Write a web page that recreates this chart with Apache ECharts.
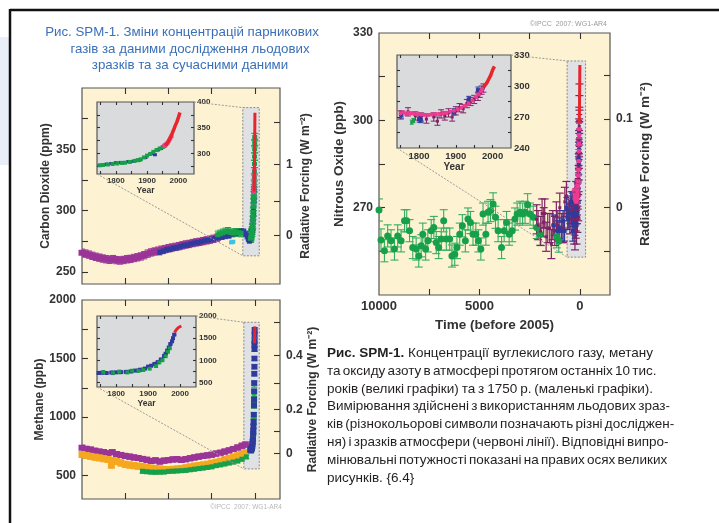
<!DOCTYPE html>
<html>
<head>
<meta charset="utf-8">
<title>SPM-1</title>
<script src="https://cdn.jsdelivr.net/npm/echarts@6/dist/echarts.min.js"></script>
<style>
  html, body { margin: 0; padding: 0; background: #fff; }
  #main { width: 719px; height: 523px; }
</style>
</head>
<body>
<div id="main"></div>
<script>
// ---- data (main panels: [years before 2005, value]; insets: [year, value]) ----
var co2Purple = [[10000,265.5],[9800,264.8],[9600,264],[9400,263],[9200,262.2],[9000,261.5],[8800,260.8],[8600,260.2],[8400,259.8],[8200,260.3],[8000,259.5],[7800,259.2],[7600,259.6],[7400,260.2],[7200,260.5],[7000,261.2],[6800,261.8],[6600,262.5],[6400,263.5],[6200,264.8],[6000,265.8],[5800,266.5],[5600,267.2],[5400,268],[5200,268.5],[5000,269.2],[4800,269.8],[4600,270.3],[4400,270.9],[4200,271.6],[4000,272.3],[3800,272.7],[3600,273.4],[3400,274],[3200,274.4],[3000,275],[2800,275.6],[2600,276.2],[2400,276.9],[2200,277.6]];
var co2Blue = [[5500,266],[5300,267],[5100,268.2],[4900,268.6],[4700,269.5],[4500,270],[4300,270.8],[4100,271.6],[3900,272],[3700,272.8],[3500,273.5],[3300,274],[3100,274.6],[2900,275.3],[2700,275.8],[2500,276.5],[2300,277.1],[2100,278],[1900,278.6],[1700,279.2],[1500,279.6],[1300,280.8],[1100,281.5],[950,282.4],[800,283],[650,282.7],[550,281],[450,279],[380,277],[320,275.5]];
var co2Green = [[2150,280.2],[2000,281],[1850,281.8],[1700,282.6],[1550,283.1],[1400,282],[1250,281.6],[1100,282.3],[950,282],[800,281.5]];
var co2Cyan = [[1350,274],[1280,274.5]];
var co2MainGreen = [[1960,318],[1966,322],[1970,327],[1975,332],[1980,338],[1984,344],[1988,350],[1992,355],[1996,360]];

var co2InsetGreen = [[1750,277],[1760,277.5],[1775,278.5],[1790,279.5],[1805,280.5],[1820,281.5],[1830,282],[1845,283.5],[1860,285.5],[1870,286.8],[1880,288.5],[1890,292.2],[1900,295.8],[1910,299],[1920,303],[1930,306.5],[1940,309.5],[1950,312.5],[1955,314]];
var co2InsetBlue = [[1748,276.5],[1770,279],[1785,280.5],[1800,281.8],[1815,282.5],[1840,284],[1855,284.5],[1875,287],[1895,292],[1915,300],[1925,297.5],[1935,307],[1945,310],[1960,317]];
var co2InsetPink = [[1955,315],[1958,316],[1962,318.5],[1966,321],[1970,325],[1974,329],[1978,333.5]];
var co2InsetRed = [[1958,315.5],[1965,320],[1970,325.7],[1975,331],[1980,338.7],[1985,346],[1990,354],[1995,360.9],[2000,369.5],[2005,379.8]];

var ch4Purple = [[10000,738],[9750,728],[9500,722],[9250,712],[9000,705],[8750,700],[8500,690],[8250,700],[8000,683],[7750,676],[7500,668],[7250,662],[7000,655],[6750,650],[6500,642],[6250,635],[6000,625],[5750,630],[5500,620],[5250,628],[5000,632],[4750,638],[4500,640],[4250,634],[4000,640],[3750,648],[3500,655],[3250,662],[3000,668],[2750,673],[2500,678],[2250,688],[2000,695],[1750,705],[1500,715],[1250,727],[1000,740],[750,755],[550,765]];
var ch4Orange = [[10000,680],[9750,672],[9500,664],[9250,658],[9000,652],[8750,645],[8500,638],[8300,590],[8250,628],[8000,620],[7750,608],[7500,596],[7250,590],[7000,585],[6750,580],[6500,576],[6250,570],[6000,563],[5750,560],[5500,556],[5250,552],[5000,551],[4750,553],[4500,556],[4250,560],[4000,566],[3750,573],[3500,580],[3250,586],[3000,590],[2750,596],[2500,605],[2250,613],[2000,622],[1750,635],[1500,646],[1250,657],[1000,668],[800,680],[600,694]];
var ch4Green = [[6500,537],[6250,533],[6000,530],[5750,529],[5500,530],[5250,531],[5000,536],[4750,538],[4500,540],[4250,542],[4000,545],[3750,550],[3500,555],[3250,560],[3000,565],[2750,570],[2500,575],[2250,585],[2000,592],[1750,600],[1500,608],[1250,616],[1000,625],[750,640],[500,660]];
var ch4MainBlue = [[1985,1650],[1987,1700],[1990,1740],[1980,1620]];

var ch4InsetBlue = [[1745,715],[1755,720],[1770,715],[1785,725],[1800,730],[1815,735],[1830,740],[1845,750],[1860,770],[1875,790],[1890,815],[1900,860],[1910,880],[1920,920],[1930,960],[1940,1020],[1950,1100],[1955,1150],[1960,1220],[1965,1290],[1970,1370],[1975,1430],[1978,1500],[1982,1580]];
var ch4InsetGreen = [[1760,730],[1790,720],[1810,740],[1835,735],[1850,760],[1870,770],[1885,790],[1905,820],[1925,880],[1935,960],[1945,1010],[1955,1100],[1962,1200],[1968,1280]];
var ch4InsetRed = [[1983,1630],[1987,1680],[1991,1715],[1995,1740],[2000,1760],[2004,1775]];

var n2oGreen = [[10000,269.2],[9900,258.9],[9730,255.2],[9570,260.3],[9400,258.6],[9230,255.8],[9070,260.3],[8900,258.6],[8730,265.5],[8620,265.5],[8480,262.1],[8320,256.3],[8150,255.8],[8020,253.4],[7900,256.9],[7820,260.9],[7680,255.8],[7570,258.6],[7400,262.1],[7270,263.2],[7150,258],[7030,256.3],[6900,259.2],[6780,265.5],[6650,259.2],[6480,259.2],[6370,253.4],[6230,254],[6120,256.3],[5980,260.9],[5850,263.8],[5700,258.6],[5570,266.1],[5450,264.9],[5320,260.9],[5180,260.9],[5050,258.6],[4930,255.8],[4820,267.8],[4680,260.9],[4570,268.4],[4450,269],[4320,271.3],[4200,266.7],[4070,262.1],[3900,256.3],[3770,262.1],[3650,264.9],[3520,260.9],[3370,262.1],[3230,266.1],[3120,267.8],[2980,268.4],[2850,267.8],[2730,268.4],[2600,271],[2480,267.8],[2320,266.7],[2150,263.2],[1980,260.9],[1150,260],[1050,258.5]];
var n2oPurple = [[2150,266],[2080,264],[1950,262],[1880,268],[1800,265],[1750,268],[1680,260],[1600,263],[1500,263],[1420,257.5],[1350,264],[1250,262],[1170,267],[1100,264],[1000,270],[900,263],[830,263],[750,272],[670,274],[580,268],[500,266],[420,269],[340,270]];
var n2oBlue = [[1300,264],[1100,262],[1000,263],[900,262],[833,265.5],[760,262],[667,270],[600,266],[520,268],[450,272],[380,267],[333,272],[280,271]];
// extra firn / ice points seen only in the main panel spike
var n2oSpikePurple = [[1700,266],[1720,262],[1740,268],[1760,260],[1780,271],[1800,264],[1820,269],[1840,262],[1860,272],[1880,266],[1900,274],[1920,270],[1940,280],[1950,284],[1960,288],[1965,292],[1970,296],[1975,300],[1980,304],[1985,308]];
var n2oSpikeBlue = [[1650,262],[1700,268],[1760,264],[1820,270],[1880,268],[1920,276],[1950,285],[1965,290],[1975,296]];

var n2oInsetPink = [[1750,273.5],[1758,274.5],[1765,273],[1772,274],[1780,273.6],[1788,272.8],[1795,272.5],[1805,272.3],[1815,272.2],[1825,272],[1835,272.5],[1845,272.7],[1855,273],[1865,273.5],[1875,274],[1885,275],[1895,276],[1905,277.5],[1915,279],[1925,281],[1935,283],[1945,286],[1955,289.5],[1962,292],[1968,295],[1972,297]];
var n2oInsetPurple = [[1750,272],[1770,275],[1790,271],[1805,270],[1820,268],[1840,270],[1850,266],[1860,273],[1870,271],[1880,274],[1890,270],[1900,276],[1910,279],[1920,278],[1930,283],[1940,285],[1950,287],[1960,290],[1965,293],[1970,296],[1975,298]];
var n2oInsetBlue = [[1752,272],[1800,268],[1805,267.5],[1895,275],[1935,287],[1960,296]];
var n2oInsetGreen = [[1780,265],[1785,266.5]];
var n2oInsetRed = [[1976,299],[1980,301],[1985,303.5],[1990,307],[1995,310.5],[2000,315.5],[2005,319]];

// zoom boxes in main panels: [t from, t to], [value from, value to]
var co2BoxT = [700, -250], co2BoxV = [263, 384];
var ch4BoxT = [640, -250], ch4BoxV = [557, 1810];
var n2oBoxT = [635, -285], n2oBoxV = [253, 320.4];

// ticks
var timeTicks = [7500, 5000, 2500, 0];
var timeLabels = [10000, 5000, 0];
var yearTicks = [1750, 1800, 1850, 1900, 1950, 2000];
var yearLabels = [1800, 1900, 2000];
var co2Ticks = [250, 275, 300, 325, 350, 375], co2Labels = [250, 300, 350];
var ch4Ticks = [500, 750, 1000, 1250, 1500, 1750], ch4Labels = [500, 1000, 1500, 2000];
var n2oTicks = [255, 270, 285, 300, 315], n2oLabels = [270, 300, 330];
// radiative forcing ticks placed at the concentration they correspond to
var co2RfConc = [279.5, 307.5, 337.7, 372], co2RfLabelConc = [279.5, 337.7], co2RfText = ['0', '1'];
var ch4RfConc = [688, 876, 1064, 1286, 1526, 1808], ch4RfLabelConc = [688, 1064, 1526], ch4RfText = ['0', '0.2', '0.4'];
var n2oRfConc = [255, 270, 285, 300.5, 315.5], n2oRfLabelConc = [270, 300.5], n2oRfText = ['0', '0.1'];
var co2InsetTicks = [275, 300, 325, 350, 375], co2InsetLabels = [300, 350, 400];
var ch4InsetTicks = [500, 750, 1000, 1250, 1500, 1750], ch4InsetLabels = [500, 1000, 1500, 2000];
var n2oInsetTicks = [255, 270, 285, 300, 315], n2oInsetLabels = [240, 270, 300, 330];

var titleLines = ['Рис. SPM-1. Зміни концентрацій парникових', 'газів за даними дослідження льодових', 'зразків та за сучасними даними'];
var captionBold = 2; // first two words of the caption are bold
var captionLines = [
  'Рис. SPM-1. Концентрації вуглекислого газу, метану',
  'та оксиду азоту в атмосфері протягом останніх 10 тис.',
  'років (великі графіки) та з 1750 р. (маленькі графіки).',
  'Вимірювання здійснені з використанням льодових зраз-',
  'ків (різнокольорові символи позначають різні досліджен-',
  'ня) і зразків атмосфери (червоні лінії). Відповідні випро-',
  'мінювальні потужності показані на правих осях великих',
  'рисунків. {6.4}'
];

// ---- helpers ----
var FONT = '"Liberation Sans", Arial, sans-serif';
var NARROW = '"Liberation Sans Narrow", "Liberation Sans", Arial, sans-serif';
var INK = '#333';

function bp(arr) {
  return arr.map(function (p) { return [2005 - p[0], p[1]]; });
}

function plain(v) { return String(v); }

function labelFrom(conc, text) {
  return function (v) {
    for (var i = 0; i < conc.length; i++) {
      if (Math.abs(v - conc[i]) < 0.01) return text[i];
    }
    return '';
  };
}

function tick(values, len) {
  return { inside: true, length: len, customValues: values, lineStyle: { color: INK, width: 1.1 } };
}

function xAxis(grid, pos, min, max, inverse, ticks, labels, lab) {
  var a = {
    type: 'value', gridIndex: grid, position: pos, inverse: inverse, min: min, max: max,
    axisLine: { show: false, onZero: false }, splitLine: { show: false },
    axisTick: tick(ticks, inverse ? 6 : 3),
    axisLabel: { show: false }
  };
  if (labels) {
    a.axisLabel = Object.assign({ show: true, customValues: labels, color: INK, fontWeight: 'bold',
      fontFamily: FONT, formatter: plain }, lab);
  }
  return a;
}

function yAxis(grid, pos, min, max, ticks, labels, lab, fmt) {
  var a = {
    type: 'value', gridIndex: grid, position: pos, min: min, max: max,
    axisLine: { show: false, onZero: false }, splitLine: { show: false },
    axisTick: tick(ticks, grid < 3 ? 6 : 3),
    axisLabel: { show: false }
  };
  if (labels) {
    a.axisLabel = Object.assign({ show: true, customValues: labels, color: INK, fontWeight: 'bold',
      fontFamily: FONT, formatter: fmt || plain }, lab);
  }
  return a;
}

function axisName(a, text, gap, size) {
  a.name = text;
  a.nameLocation = 'middle';
  a.nameGap = gap;
  a.nameTextStyle = { fontWeight: 'bold', fontSize: size, color: INK, fontFamily: FONT };
  return a;
}

function errorBar(cap, width) {
  return function (params, api) {
    var x = api.value(0), y = api.value(1), e = api.value(2);
    var hi = api.coord([x, y + e]);
    var lo = api.coord([x, y - e]);
    var st = { stroke: api.visual('color'), lineWidth: width };
    return {
      type: 'group',
      children: [
        { type: 'line', shape: { x1: hi[0], y1: hi[1], x2: lo[0], y2: lo[1] }, style: st },
        { type: 'line', shape: { x1: hi[0] - cap, y1: hi[1], x2: hi[0] + cap, y2: hi[1] }, style: st },
        { type: 'line', shape: { x1: lo[0] - cap, y1: lo[1], x2: lo[0] + cap, y2: lo[1] }, style: st }
      ]
    };
  };
}

function boxItem(params, api) {
  var a = api.coord([api.value(0), api.value(3)]);
  var b = api.coord([api.value(1), api.value(2)]);
  return {
    type: 'rect',
    shape: { x: a[0], y: a[1], width: b[0] - a[0], height: b[1] - a[1] },
    style: { fill: '#dfe1e5', stroke: '#8a8a8a', lineWidth: 1, lineDash: [2, 1.5] }
  };
}

var series = [];

function points(data, o) {
  if (o.err) {
    series.push({
      type: 'custom', xAxisIndex: o.x, yAxisIndex: o.y, z: 2, silent: true, clip: true,
      renderItem: errorBar(o.cap || 2, o.errWidth || 1),
      itemStyle: { color: o.errColor || o.color },
      encode: { x: 0, y: 1 },
      data: data.map(function (p) { return [p[0], p[1], o.err]; })
    });
  }
  series.push({
    type: 'scatter', xAxisIndex: o.x, yAxisIndex: o.y, z: 3, silent: true, clip: true,
    symbol: o.symbol || 'rect', symbolSize: o.size || 4,
    itemStyle: { color: o.color, opacity: 1 },
    data: data
  });
}

function redLine(data, x, y, width, color) {
  series.push({
    type: 'line', xAxisIndex: x, yAxisIndex: y, z: 4, silent: true,
    showSymbol: false, data: data,
    lineStyle: { color: color || '#e8252b', width: width }
  });
}

function box(x, y, t, v) {
  series.push({
    type: 'custom', xAxisIndex: x, yAxisIndex: y, z: 1, silent: true,
    renderItem: boxItem, encode: { x: [0, 1], y: [2, 3] },
    data: [[t[0], t[1], v[0], v[1]]]
  });
}

var PURPLE = '#9a3497', BLUE = '#2f3b9c', GREEN = '#17a04a', ORANGE = '#f5a81f',
    CYAN = '#36c4ea', PINK = '#ee3b8f', PLUM = '#7e2466';

// ---- CO2 main (grid 0) ----
box(0, 0, co2BoxT, co2BoxV);
points(co2Purple, { x: 0, y: 0, color: PURPLE, size: [7, 6], err: 3, cap: 3 });
points(co2Blue, { x: 0, y: 0, color: BLUE, size: [5, 5], err: 2.2, cap: 2.5 });
points(co2Green, { x: 0, y: 0, color: GREEN, size: [5, 5], err: 3, cap: 3 });
points(co2Cyan, { x: 0, y: 0, color: CYAN, size: [5, 4] });
points(bp(co2InsetBlue), { x: 0, y: 0, color: BLUE, size: [5, 4], err: 2.5, cap: 3 });
points(bp(co2InsetGreen), { x: 0, y: 0, color: GREEN, size: [5, 4], err: 3, cap: 3.5 });
points(bp(co2MainGreen), { x: 0, y: 0, color: GREEN, size: [5, 4], err: 3, cap: 3.5 });
points(bp(co2InsetPink), { x: 0, y: 0, color: PINK, size: [4, 4] });
redLine(bp(co2InsetRed), 0, 0, 3);

// ---- CH4 main (grid 1) ----
box(2, 2, ch4BoxT, ch4BoxV);
points(ch4Purple, { x: 2, y: 2, color: PURPLE, size: [7, 6], err: 22, cap: 3 });
points(ch4Orange, { x: 2, y: 2, color: ORANGE, size: [7, 7], err: 26, cap: 3 });
points(ch4Green, { x: 2, y: 2, color: GREEN, size: [5, 5], err: 16, cap: 3 });
points(bp(ch4InsetGreen), { x: 2, y: 2, color: GREEN, size: [5, 4], err: 25, cap: 3 });
points(bp(ch4InsetBlue), { x: 2, y: 2, color: BLUE, size: [6, 5], err: 20, cap: 3 });
points(bp(ch4MainBlue), { x: 2, y: 2, color: BLUE, size: [6, 5], err: 25, cap: 3 });
redLine(bp(ch4InsetRed), 2, 2, 3);

// ---- N2O main (grid 2) ----
box(4, 4, n2oBoxT, n2oBoxV);
points(n2oGreen, { x: 4, y: 4, color: GREEN, symbol: 'circle', size: 7, err: 3.8, cap: 4, errWidth: 1.1, errColor: '#35ad63' });
points(n2oPurple, { x: 4, y: 4, color: PLUM, size: 3, err: 5, cap: 4, errWidth: 1.2 });
points(n2oBlue, { x: 4, y: 4, color: BLUE, size: 4, err: 3.5, cap: 3, errWidth: 1.2 });
points(bp(n2oSpikePurple), { x: 4, y: 4, color: PLUM, size: 3, err: 4.5, cap: 4, errWidth: 1.2 });
points(bp(n2oInsetPurple), { x: 4, y: 4, color: PLUM, size: 3, err: 4, cap: 3, errWidth: 1.2 });
points(bp(n2oSpikeBlue), { x: 4, y: 4, color: BLUE, size: 4, err: 3.5, cap: 3.5, errWidth: 1.2 });
points(bp(n2oInsetBlue), { x: 4, y: 4, color: BLUE, size: 4, err: 3, cap: 3 });
points(bp(n2oInsetPink), { x: 4, y: 4, color: PINK, size: 4, err: 2, cap: 3 });
redLine(bp(n2oInsetRed), 4, 4, 3);

// ---- insets (grids 3..5) ----
points(co2InsetBlue, { x: 6, y: 6, color: BLUE, size: [4, 3], err: 1.8, cap: 1.5 });
points(co2InsetGreen, { x: 6, y: 6, color: GREEN, size: [4, 4], err: 1.8, cap: 1.5 });
points(co2InsetPink, { x: 6, y: 6, color: PINK, size: [4, 4] });
redLine(co2InsetRed, 6, 6, 3.5);

points(ch4InsetBlue, { x: 8, y: 8, color: BLUE, size: [4, 4], err: 15, cap: 2 });
points(ch4InsetGreen, { x: 8, y: 8, color: GREEN, size: [4, 3], err: 40, cap: 2 });
redLine(ch4InsetRed, 8, 8, 3);

points(n2oInsetPurple, { x: 10, y: 10, color: PLUM, size: 3, err: 4, cap: 3, errWidth: 1 });
points(n2oInsetBlue, { x: 10, y: 10, color: BLUE, size: 4, err: 3, cap: 2.5 });
points(n2oInsetGreen, { x: 10, y: 10, color: GREEN, size: 3, err: 2, cap: 2 });
points(n2oInsetPink, { x: 10, y: 10, color: PINK, symbol: 'circle', size: 4, err: 1.2, cap: 2 });
redLine(n2oInsetRed, 10, 10, 3.5);

// ---- axes ----
var mainLab = { fontSize: 12, margin: 6 };
var insetLab = { fontSize: 8, margin: 3 };
var n2oInsetLab = { fontSize: 9.5, margin: 3 };

var xAxes = [
  xAxis(0, 'bottom', -1450, 10000, true, timeTicks),
  xAxis(0, 'top', -1450, 10000, true, timeTicks),
  xAxis(1, 'bottom', -1450, 10000, true, timeTicks),
  xAxis(1, 'top', -1450, 10000, true, timeTicks),
  axisName(xAxis(2, 'bottom', -1500, 10000, true, timeTicks, timeLabels, { fontSize: 13, margin: 5 }), 'Time (before 2005)', 21, 13.5),
  xAxis(2, 'top', -1500, 10000, true, timeTicks),
  axisName(xAxis(3, 'bottom', 1740, 2050, false, yearTicks, yearLabels, insetLab), 'Year', 9, 8.5),
  xAxis(3, 'top', 1740, 2050, false, yearTicks),
  axisName(xAxis(4, 'bottom', 1740, 2050, false, yearTicks, yearLabels, insetLab), 'Year', 9, 8.5),
  xAxis(4, 'top', 1740, 2050, false, yearTicks),
  axisName(xAxis(5, 'bottom', 1740, 2050, false, yearTicks, yearLabels, n2oInsetLab), 'Year', 11, 10),
  xAxis(5, 'top', 1740, 2050, false, yearTicks)
];

var yAxes = [
  axisName(yAxis(0, 'left', 240, 400, co2Ticks, co2Labels, mainLab), 'Carbon Dioxide (ppm)', 28, 12),
  axisName(yAxis(0, 'right', 240, 400, co2RfConc, co2RfLabelConc, mainLab, labelFrom(co2RfLabelConc, co2RfText)), 'Radiative Forcing (W m⁻²)', 20, 12),
  axisName(yAxis(1, 'left', 300, 2000, ch4Ticks, ch4Labels, mainLab), 'Methane (ppb)', 28, 12),
  axisName(yAxis(1, 'right', 300, 2000, ch4RfConc, ch4RfLabelConc, mainLab, labelFrom(ch4RfLabelConc, ch4RfText)), 'Radiative Forcing (W m⁻²)', 23, 12),
  axisName(yAxis(2, 'left', 240, 330, n2oTicks, n2oLabels, mainLab), 'Nitrous Oxide (ppb)', 33, 13.5),
  axisName(yAxis(2, 'right', 240, 330, n2oRfConc, n2oRfLabelConc, mainLab, labelFrom(n2oRfLabelConc, n2oRfText)), 'Radiative Forcing (W m⁻²)', 28, 13.5),
  yAxis(3, 'left', 260, 400, co2InsetTicks),
  yAxis(3, 'right', 260, 400, co2InsetTicks, co2InsetLabels, insetLab),
  yAxis(4, 'left', 400, 2000, ch4InsetTicks),
  yAxis(4, 'right', 400, 2000, ch4InsetTicks, ch4InsetLabels, insetLab),
  yAxis(5, 'left', 240, 330, n2oInsetTicks),
  yAxis(5, 'right', 240, 330, n2oInsetTicks, n2oInsetLabels, n2oInsetLab)
];

function panel(left, top, width, height, bg) {
  return { left: left, top: top, width: width, height: height, show: true,
    backgroundColor: bg, borderColor: '#555', borderWidth: 1.2 };
}

var grids = [
  panel(82, 88, 198, 196, '#fdf3d2'),
  panel(82, 300, 198, 199, '#fdf3d2'),
  panel(379, 33, 231, 262, '#fdf3d2'),
  panel(97, 102, 97, 72, '#dadbdd'),
  panel(97, 316, 99, 71, '#dadbdd'),
  panel(397, 55, 114, 93, '#dadbdd')
];

// ---- text and frame ----
function text(x, y, str, font, color, align) {
  return { type: 'text', x: x, y: y, silent: true,
    style: { text: str, font: font, fill: color, textAlign: align || 'left', align: align || 'left',
      textVerticalAlign: 'middle', verticalAlign: 'middle' } };
}

function captionGraphics(x, y0, lineH, width, size) {
  var ctx = document.createElement('canvas').getContext('2d');
  var out = [];
  captionLines.forEach(function (line, li) {
    var words = line.split(' ');
    var fonts = words.map(function (w, wi) {
      return (li === 0 && wi < captionBold ? 'bold ' : '') + size + 'px ' + NARROW;
    });
    var widths = words.map(function (w, wi) { ctx.font = fonts[wi]; return ctx.measureText(w).width; });
    ctx.font = size + 'px ' + NARROW;
    var gap = ctx.measureText(' ').width;
    var total = widths.reduce(function (a, b) { return a + b; }, 0);
    if (li < captionLines.length - 1 && words.length > 1) {
      gap = Math.max(gap * 0.6, (width - total) / (words.length - 1));
    }
    var cx = x;
    words.forEach(function (w, wi) {
      out.push(text(cx, y0 + li * lineH, w, fonts[wi], '#231f20'));
      cx += widths[wi] + gap;
    });
  });
  return out;
}

var TITLE_FONT = '13.3px ' + NARROW;
var graphics = [
  { type: 'rect', silent: true, shape: { x: 0, y: 37, width: 9, height: 128 }, style: { fill: '#e9eff8' } },
  { type: 'line', silent: true, shape: { x1: 10, y1: 10, x2: 719, y2: 10 }, style: { stroke: '#111', lineWidth: 2.5 } },
  { type: 'line', silent: true, shape: { x1: 10, y1: 9, x2: 10, y2: 523 }, style: { stroke: '#111', lineWidth: 2.5 } },
  text(182, 32, titleLines[0], TITLE_FONT, '#3b70b8', 'center'),
  text(190, 49, titleLines[1], TITLE_FONT, '#3b70b8', 'center'),
  text(190, 65, titleLines[2], TITLE_FONT, '#3b70b8', 'center'),
  text(607, 24, '©IPCC  2007: WG1-AR4', '7px ' + FONT, '#9a9a9a', 'right'),
  text(246, 507, '©IPCC  2007: WG1-AR4', '6.5px ' + FONT, '#b8b8b8', 'center')
].concat(captionGraphics(327, 353, 17.9, 326, 13.5));

var chart = echarts.init(document.getElementById('main'), null, { width: 719, height: 523 });
chart.setOption({
  animation: false,
  backgroundColor: '#ffffff',
  grid: grids,
  xAxis: xAxes,
  yAxis: yAxes,
  series: series,
  graphic: graphics
});

// dotted connectors from each inset to its zoom box
function connector(insetGrid, mainGrid, corner, boxCorner) {
  var a = chart.convertToPixel({ gridIndex: insetGrid }, corner);
  var b = chart.convertToPixel({ gridIndex: mainGrid }, boxCorner);
  return { type: 'line', silent: true, z: 10,
    shape: { x1: a[0], y1: a[1], x2: b[0], y2: b[1] },
    style: { stroke: '#9a9a9a', lineWidth: 1, lineDash: [2, 1.5] } };
}

var links = [
  connector(3, 0, [2050, 400], [co2BoxT[0], co2BoxV[1]]),
  connector(3, 0, [1740, 260], [co2BoxT[0], co2BoxV[0]]),
  connector(4, 1, [2050, 2000], [ch4BoxT[0], ch4BoxV[1]]),
  connector(4, 1, [1740, 400], [ch4BoxT[0], ch4BoxV[0]]),
  connector(5, 2, [2050, 330], [n2oBoxT[0], n2oBoxV[1]]),
  connector(5, 2, [1740, 240], [n2oBoxT[0], n2oBoxV[0]])
];
chart.setOption({ graphic: graphics.concat(links) });
</script>
</body>
</html>
